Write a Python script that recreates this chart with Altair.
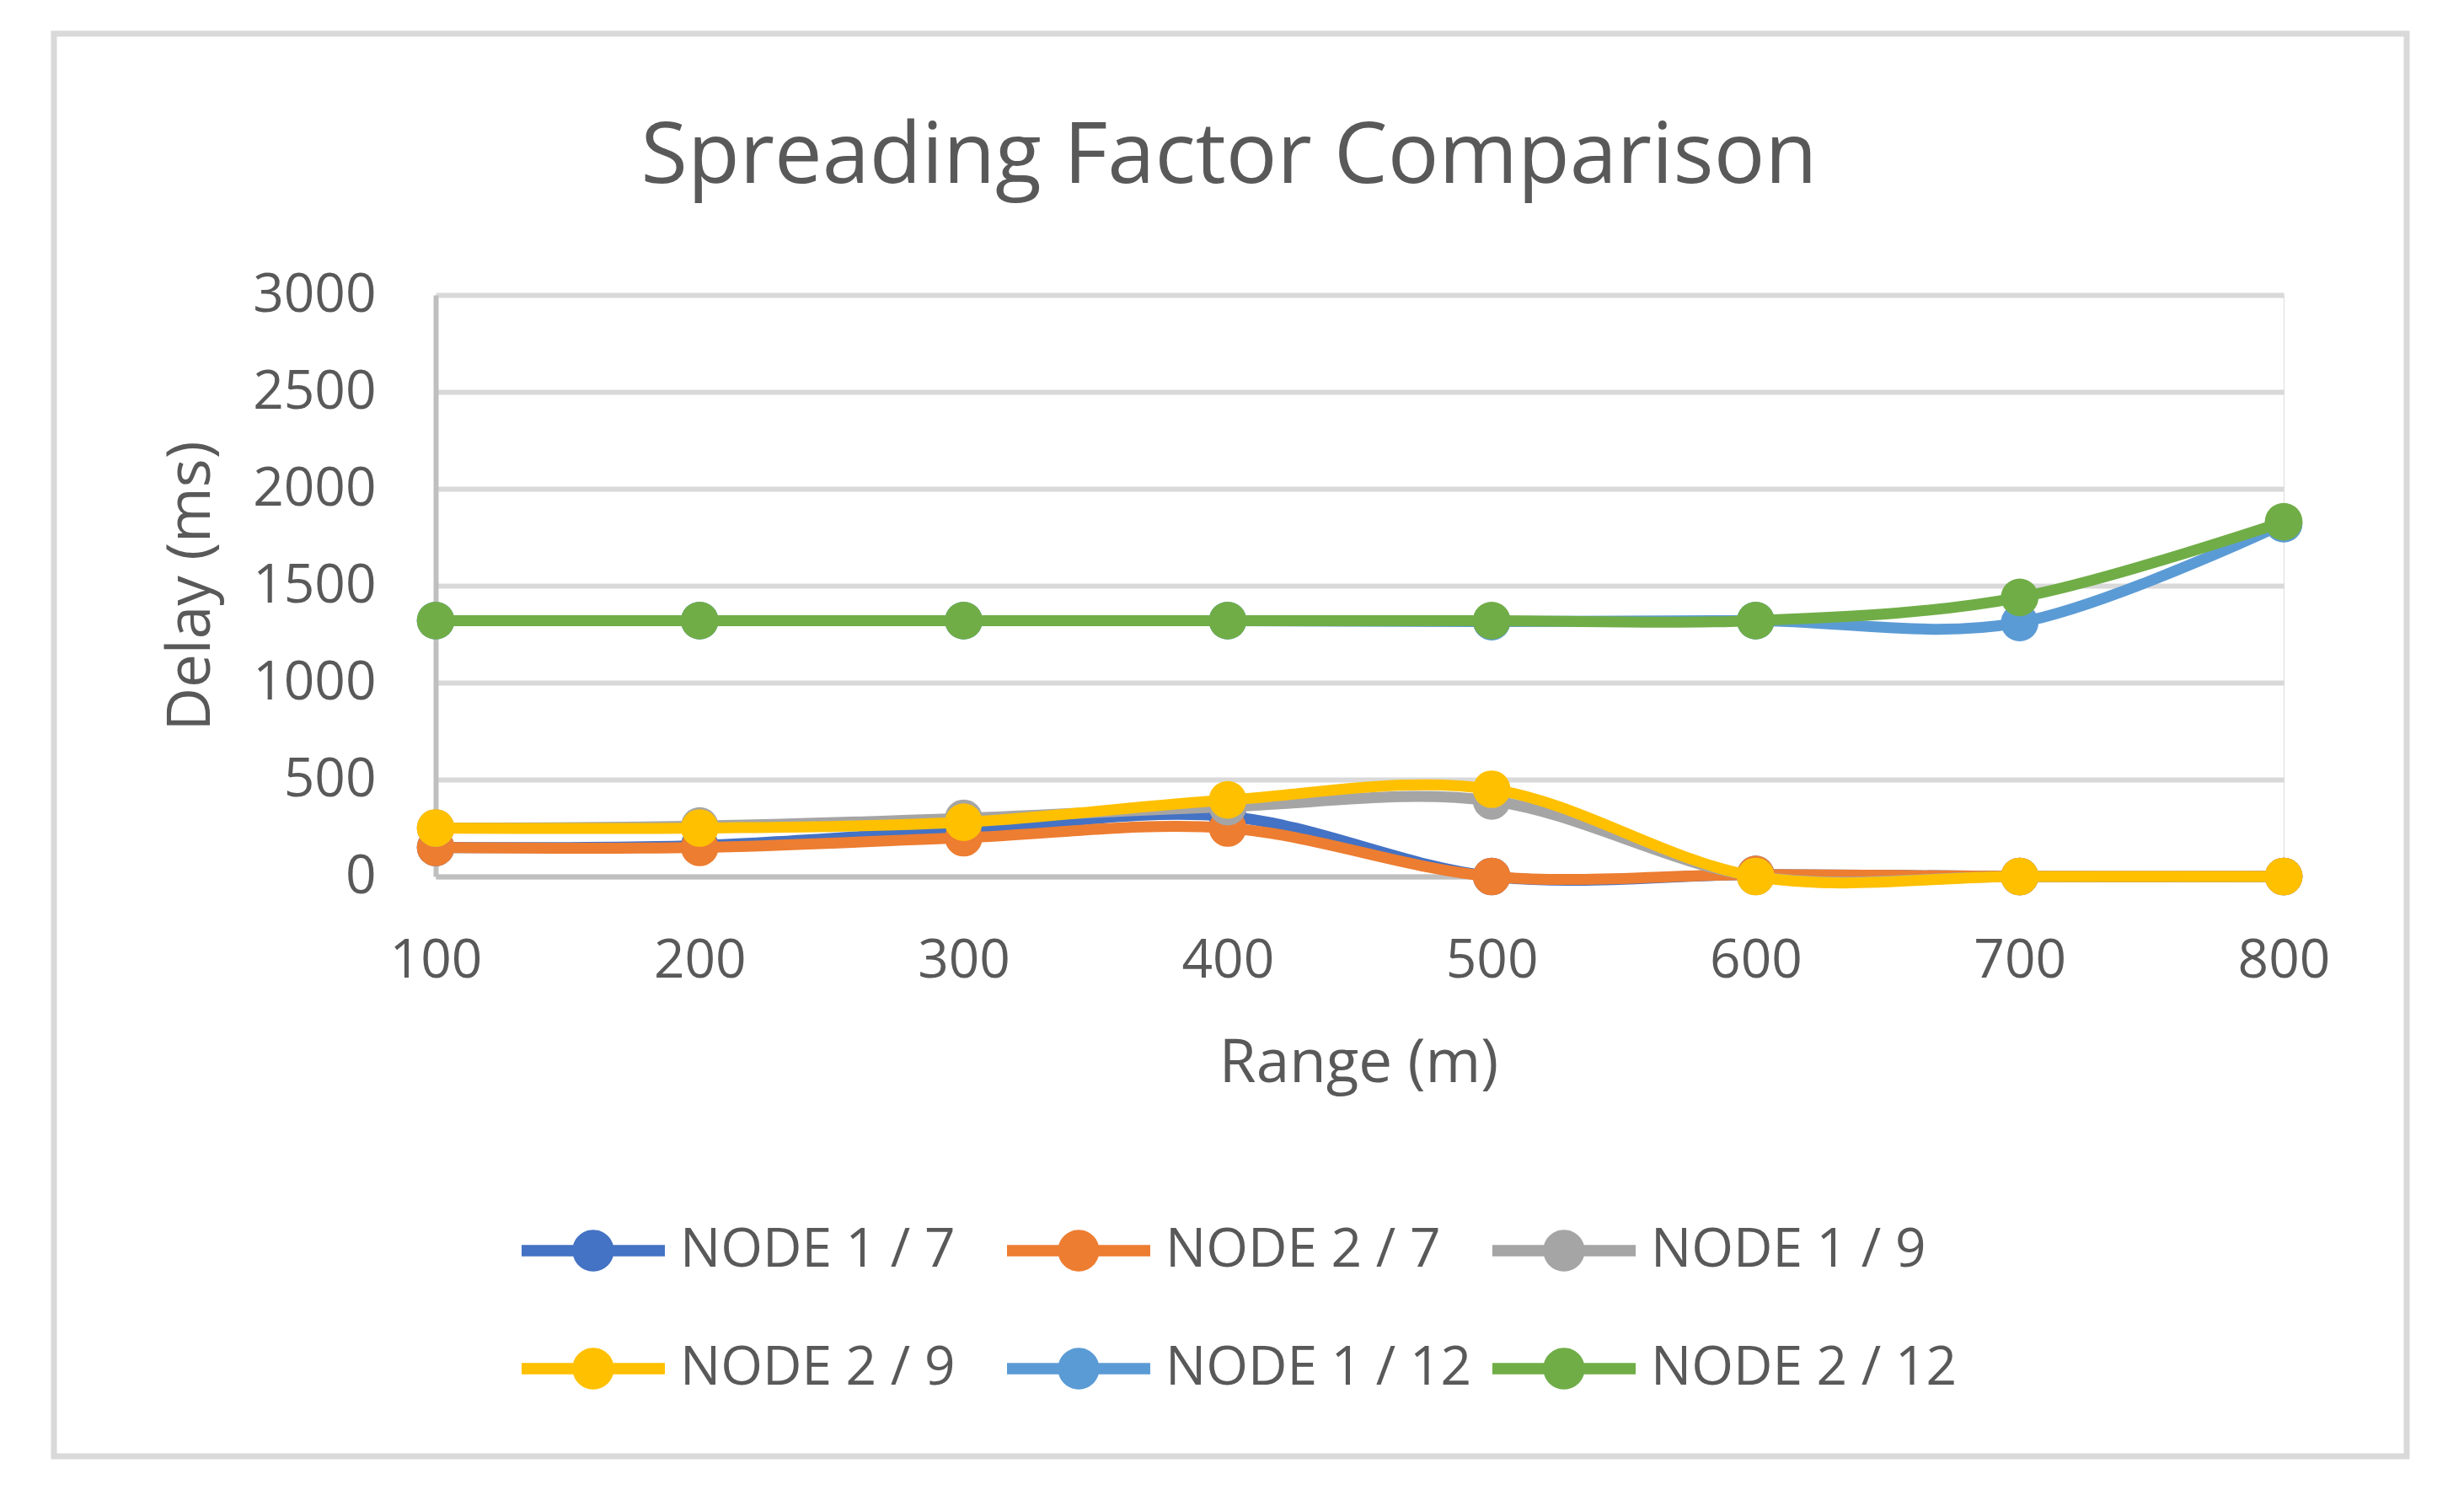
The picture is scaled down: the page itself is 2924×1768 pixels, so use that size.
import altair as alt
import pandas as pd

# ---- data ----
ranges = [100, 200, 300, 400, 500, 600, 700, 800]
series_names = ["NODE 1 / 7", "NODE 2 / 7", "NODE 1 / 9", "NODE 2 / 9", "NODE 1 / 12", "NODE 2 / 12"]
series_colors = ["#4472C4", "#ED7D31", "#A5A5A5", "#FFC000", "#5B9BD5", "#70AD47"]
node1_sf7 = [150, 160, 240, 310, 0, 10, 0, 0]
node2_sf7 = [150, 150, 200, 250, 0, 10, 0, 0]
node1_sf9 = [250, 260, 300, 360, 390, 0, 0, 0]
node2_sf9 = [250, 250, 280, 395, 450, 0, 0, 0]
node1_sf12 = [1320, 1320, 1320, 1320, 1315, 1320, 1310, 1820]
node2_sf12 = [1320, 1320, 1320, 1320, 1320, 1320, 1440, 1830]
y_ticks = [0, 500, 1000, 1500, 2000, 2500, 3000]

all_series = [node1_sf7, node2_sf7, node1_sf9, node2_sf9, node1_sf12, node2_sf12]
rows = []
for name, vals in zip(series_names, all_series):
    for r, v in zip(ranges, vals):
        rows.append({"series": name, "range": r, "delay": v})
df = pd.DataFrame(rows)

FONT = "Open Sans"
TXT = "#595959"

legend_symbol = ("M-1,-0.08 L1,-0.08 L1,0.08 L-1,0.08 Z "
                 "M-0.29,0 A0.29,0.29 0 1,1 0.29,0 A0.29,0.29 0 1,1 -0.29,0 Z")

color_scale = alt.Scale(domain=series_names, range=series_colors)
legend = alt.Legend(
    title=None, orient="none", legendX=102, legendY=1049, direction="horizontal",
    columns=3, gridAlign="all", columnPadding=24, rowPadding=23,
    symbolType=legend_symbol, symbolSize=28900, symbolStrokeWidth=0,
    symbolOpacity=1,
    labelFont=FONT, labelFontSize=64, labelColor=TXT, labelOffset=18,
    labelLimit=1000, padding=0,
)

x_enc = alt.X("range:Q", scale=alt.Scale(domain=[100, 800], nice=False, zero=False),
              axis=alt.Axis(values=ranges, title="Range (m)", grid=False, ticks=False, tickSize=0,
                            labelFont=FONT, labelFontSize=64, labelColor=TXT,
                            labelPadding=119, labelBaseline="alphabetic",
                            labelFlush=False, labelOverlap=False,
                            domainColor="#BFBFBF", domainWidth=6,
                            titleFont=FONT, titleFontSize=71, titleColor=TXT, titleFontWeight="normal",
                            titleX=1095, titleY=243, titleAlign="center", titleBaseline="alphabetic"))
y_enc = alt.Y("delay:Q", scale=alt.Scale(domain=[0, 3000], nice=False),
              axis=alt.Axis(values=y_ticks, format="d", title="Delay (ms)", grid=True,
                            gridColor="#D9D9D9", gridWidth=6,
                            ticks=False, tickSize=0,
                            labelFont=FONT, labelFontSize=64, labelColor=TXT, labelPadding=71,
                            labelFlush=False, labelOverlap=False,
                            domainColor="#BFBFBF", domainWidth=6,
                            titleFont=FONT, titleFontSize=71, titleColor=TXT, titleFontWeight="normal",
                            titleAngle=270, titleX=-269, titleY=345, titleAlign="center",
                            titleBaseline="alphabetic"))

frame = alt.Chart(pd.DataFrame({"k": [0]})).mark_rect(
    fill="transparent", stroke="#D9D9D9", strokeWidth=7
).encode(x=alt.value(-453), x2=alt.value(2339), y=alt.value(-310), y2=alt.value(1378))

color_enc = alt.Color("series:N", scale=color_scale, legend=legend)

# carrier layer: holds the legend definition of a filled circle, draws nothing
legend_carrier = alt.Chart(df).transform_filter("false").mark_point(
    filled=True, size=2000, opacity=1, shape="circle").encode(x=x_enc, y=y_enc, color=color_enc)

layers = [frame, legend_carrier]
for name in series_names:
    base = alt.Chart(df).transform_filter(alt.datum.series == name)
    line = base.mark_line(interpolate="cardinal", strokeWidth=13, strokeCap="round",
                          strokeJoin="round").encode(x=x_enc, y=y_enc, color=color_enc)
    pts = base.mark_point(filled=True, size=2000, opacity=1, shape="circle").encode(
        x=x_enc, y=y_enc, color=color_enc)
    layers += [line, pts]

chart = alt.layer(*layers).properties(
    width=2193, height=690,
    title=alt.TitleParams("Spreading Factor Comparison", font=FONT, fontSize=101, color=TXT,
                          fontWeight="normal", anchor="middle", frame="group",
                          baseline="alphabetic", offset=0, dx=-155, dy=281),
    autosize=alt.AutoSizeParams(type="none"),
    padding={"left": 509, "top": 342, "right": 198, "bottom": 713},
).configure_view(stroke=None).configure(background="white")

chart.save("out.html", embed_options={"renderer": "svg", "actions": False})
